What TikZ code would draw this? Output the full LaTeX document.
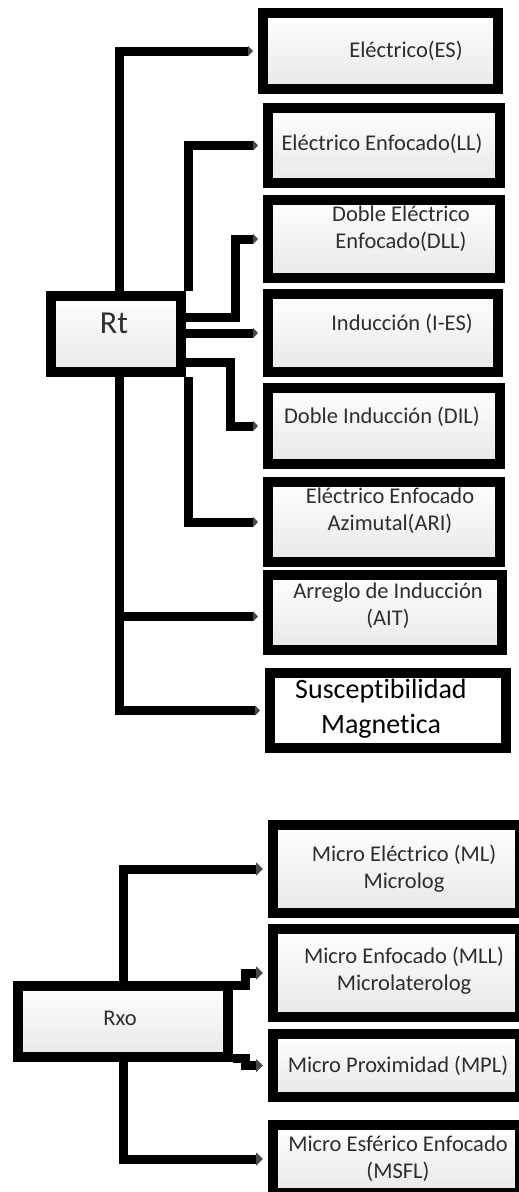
\documentclass[tikz,border=0pt]{standalone}
\usepackage{fontspec}
\setmainfont{Carlito}[Ligatures=CommonOff]
\usetikzlibrary{arrows.meta}
\definecolor{BoxInk}{HTML}{2E2E2E}
\definecolor{BoxShade}{HTML}{E8E8E8}
\definecolor{TipGray}{HTML}{4A4A4A}

\begin{document}
\begin{tikzpicture}[
  x=1pt, y=-1pt,
  box/.style={rectangle, draw=black, line width=10pt, top color=white,
              bottom color=BoxShade, inner sep=0pt},
  lbl/.style={font=\fontsize{22.5}{27}\selectfont, text=BoxInk, align=center,
              anchor=base, inner sep=0pt},
  conn/.style={draw=black, line width=9pt, shorten >=5pt,
               -{Triangle[length=7pt, width=13pt, color=TipGray]}},
  connT/.style={conn, -{Triangle[length=5pt, width=10pt, color=TipGray]}},
]
\useasboundingbox (0,0) rectangle (519,1192);
\clip (0,0) rectangle (519,1192);

% --- Rt and its tools ---
\node[box, minimum width=130, minimum height=76] (rt) at (116,334) {};
\node[box, minimum width=235, minimum height=76] (es) at (380.5,51) {};
\node[box, minimum width=232, minimum height=75] (ll) at (384,145.5) {};
\node[box, minimum width=232, minimum height=78] (dll) at (384,239) {};
\node[box, minimum width=230, minimum height=78] (ies) at (383,333) {};
\node[box, minimum width=232, minimum height=76] (dil) at (384,426) {};
\node[box, minimum width=232, minimum height=80] (ari) at (384,522) {};
\node[box, minimum width=234, minimum height=75] (ait) at (385,612.5) {};
\node[box, minimum width=236, minimum height=75, top color=white,
      bottom color=white] (mag) at (388,710.5) {};

% labels sit on the baseline of their last line
\node[lbl, font=\fontsize{32}{38}\selectfont] (rtL) at (114,333) {Rt};
\node[lbl] (esL) at (406,57) {Eléctrico(ES)};
\node[lbl] (llL) at (382,150) {Eléctrico Enfocado(LL)};
\node[lbl] (dllL) at (401,248) {Doble Eléctrico\\Enfocado(DLL)};
\node[lbl] (iesL) at (402,330) {Inducción (I-ES)};
\node[lbl] (dilL) at (382,423) {Doble Inducción (DIL)};
\node[lbl] (ariL) at (390,530) {Eléctrico Enfocado\\Azimutal(ARI)};
\node[lbl] (aitL) at (388,625) {Arreglo de Inducción\\(AIT)};
\node[lbl, font=\fontsize{28}{35}\selectfont, text=black] (magL) at (381,733)
  {Susceptibilidad\\Magnetica};

\draw[connT] ([xshift=3pt]rt.north) |- (es.west);
\draw[connT] ([xshift=2pt]rt.north east) |- (ll.west);
\draw[connT] ([yshift=17pt]rt.east) -- ++(49,0) |- (dll.west);
\draw[connT] (ies.west -| rt.east) -- (ies.west);
\draw[connT] ([yshift=-28pt]rt.east) -- ++(44,0) |- (dil.west);
\draw[connT] ([xshift=2pt]rt.south east) |- (ari.west);
\draw[connT] ([xshift=3pt]rt.south) |- ([yshift=-4pt]ait.west);
\draw[connT] ([xshift=3pt]rt.south) |- (mag.west);

% --- Rxo and its tools ---
\node[box, minimum width=210, minimum height=71] (rxo) at (123,1021.5) {};
\node[box, minimum width=247, minimum height=88] (ml) at (396.5,869) {};
\node[box, minimum width=247, minimum height=88] (mll) at (396.5,973) {};
\node[box, minimum width=247, minimum height=63] (mpl) at (396.5,1065.5) {};
\node[box, minimum width=247, minimum height=68] (msfl) at (396.5,1159) {};

\node[lbl] (rxoL) at (120,1025) {Rxo};
\node[lbl] (mlL) at (404,888) {Micro Eléctrico (ML)\\Microlog};
\node[lbl] (mllL) at (404,990) {Micro Enfocado (MLL)\\Microlaterolog};
\node[lbl] (mplL) at (398,1072) {Micro Proximidad (MPL)};
\node[lbl] (msflL) at (398,1178) {Micro Esférico Enfocado\\(MSFL)};

\draw[conn] (rxo.north) |- (ml.west);
\draw[conn] ([yshift=-4pt]rxo.north east) -- ++(12,0) |- (mll.west);
\draw[conn] ([yshift=4pt]rxo.south east) -- ++(12,0) |- (mpl.west);
\draw[conn] (rxo.south) |- (msfl.west);

\end{tikzpicture}
\end{document}
